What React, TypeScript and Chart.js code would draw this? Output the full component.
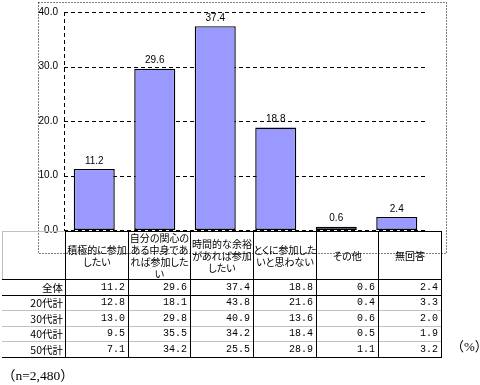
import React, { useEffect, useRef } from "react";
import { Chart, registerables } from "chart.js";

Chart.register(...registerables);

const categories: string[][] = [
  ["積極的に参加", "したい"],
  ["自分の関心の", "ある中身であ", "れば参加した", "い"],
  ["時間的な余裕", "があれば参加", "したい"],
  ["とくに参加した", "いと思わない"],
  ["その他"],
  ["無回答"],
];
const totalValues = [11.2, 29.6, 37.4, 18.8, 0.6, 2.4];
const rowLabels = ["全体", "20代計", "30代計", "40代計", "50代計"];
const rowValues: number[][] = [
  [11.2, 29.6, 37.4, 18.8, 0.6, 2.4],
  [12.8, 18.1, 43.8, 21.6, 0.4, 3.3],
  [13.0, 29.8, 40.9, 13.6, 0.6, 2.0],
  [9.5, 35.5, 34.2, 18.4, 0.5, 1.9],
  [7.1, 34.2, 25.5, 28.9, 1.1, 3.2],
];
const yTicks = { min: 0, max: 40, step: 10 };
const sampleNote = "（n=2,480）";
const unitNote = "（%）";

const colEdges = [65, 128, 190, 253, 316, 378, 441];
const rowEdges = [231, 279, 295, 310, 326, 341, 357];
const CJK = '"Noto Sans CJK JP", "Noto Sans", sans-serif';

const framePlugin = {
  id: "frame",
  beforeDatasetsDraw(chart: any) {
    const { ctx, chartArea, scales } = chart;
    ctx.save();
    ctx.strokeStyle = "#000";
    ctx.lineWidth = 1;
    ctx.setLineDash([1, 2]);
    ctx.strokeRect(38.5, 2.5, 408, 251);
    ctx.setLineDash([4, 3]);
    const y = scales.y;
    for (let v = yTicks.min; v <= yTicks.max; v += yTicks.step) {
      const py = Math.round(y.getPixelForValue(v)) + 0.5;
      ctx.beginPath();
      ctx.moveTo(chartArea.left, py);
      ctx.lineTo(chartArea.right, py);
      ctx.stroke();
    }
    ctx.beginPath();
    ctx.moveTo(chartArea.left + 0.5, chartArea.top);
    ctx.lineTo(chartArea.left + 0.5, chartArea.bottom);
    ctx.stroke();
    ctx.restore();
  },
  afterDatasetsDraw(chart: any) {
    const { ctx } = chart;
    const meta = chart.getDatasetMeta(0);
    ctx.save();
    ctx.fillStyle = "#000";
    ctx.font = '10px "Liberation Sans", Arial, sans-serif';
    ctx.textAlign = "center";
    ctx.textBaseline = "bottom";
    meta.data.forEach((el: any, i: number) => {
      ctx.fillText(totalValues[i].toFixed(1), el.x, el.y - 3);
    });
    ctx.restore();
  },
};

function ChartCanvas() {
  const ref = useRef<HTMLCanvasElement | null>(null);
  useEffect(() => {
    if (!ref.current) return;
    const chart = new Chart(ref.current, {
      type: "bar",
      data: {
        labels: categories.map((c) => c.join("")),
        datasets: [
          {
            data: totalValues,
            backgroundColor: "#9999FF",
            borderColor: "#000000",
            borderWidth: 1.4,
            borderSkipped: false,
            barPercentage: 0.678,
            categoryPercentage: 1,
          },
        ],
      },
      options: {
        responsive: false,
        animation: false,
        devicePixelRatio: 1,
        layout: { padding: { left: 0, right: 53, top: 8, bottom: 30 } },
        plugins: { legend: { display: false }, tooltip: { enabled: false } },
        scales: {
          x: { display: false },
          y: {
            min: yTicks.min,
            max: yTicks.max,
            afterFit: (s: any) => {
              s.width = 64;
            },
            grid: { display: false, drawTicks: false },
            border: { display: false },
            ticks: {
              stepSize: yTicks.step,
              padding: 6,
              color: "#000",
              font: { family: '"Liberation Sans", Arial, sans-serif', size: 10 },
              callback: (v: any) => Number(v).toFixed(1),
            },
          },
        },
      } as any,
      plugins: [framePlugin],
    });
    return () => chart.destroy();
  }, []);
  return (
    <canvas
      ref={ref}
      width={480}
      height={260}
      style={{ position: "absolute", left: 0, top: 0, width: 480, height: 260 }}
    />
  );
}

function Line(props: { x: number; y: number; w: number; h: number; c: string }) {
  return (
    <div
      style={{
        position: "absolute",
        left: props.x,
        top: props.y,
        width: props.w,
        height: props.h,
        background: props.c,
      }}
    />
  );
}

function Table() {
  const els: React.ReactNode[] = [];
  const gray = "#c0c0c0";
  els.push(<Line key="gt" x={2} y={rowEdges[0]} w={colEdges[0] - 2} h={1} c={gray} />);
  els.push(<Line key="gl" x={2} y={rowEdges[0]} w={1} h={rowEdges[1] - rowEdges[0]} c={gray} />);
  els.push(
    <Line key="bt" x={colEdges[0]} y={rowEdges[0]} w={colEdges[6] - colEdges[0] + 1} h={1} c="#000" />
  );
  rowEdges.slice(1).forEach((ry, i) => {
    const black = i === 0 || i === 1 || i === rowEdges.length - 2;
    els.push(
      <Line key={"h" + i} x={2} y={ry} w={colEdges[6] - 2 + 1} h={1} c={black ? "#000" : gray} />
    );
  });
  colEdges.forEach((cx, i) => {
    els.push(
      <Line key={"v" + i} x={cx} y={rowEdges[0]} w={1} h={rowEdges[6] - rowEdges[0] + 1} c="#000" />
    );
  });
  categories.forEach((lines, i) => {
    els.push(
      <div
        key={"hd" + i}
        style={{
          position: "absolute",
          left: colEdges[i] + 1,
          top: rowEdges[0] + 1,
          width: colEdges[i + 1] - colEdges[i] - 1,
          height: rowEdges[1] - rowEdges[0] - 1,
          display: "flex",
          flexDirection: "column",
          justifyContent: "center",
          alignItems: "center",
          fontFamily: CJK,
          fontSize: 10,
          lineHeight: "12px",
          fontFeatureSettings: '"palt"',
          color: "#000",
        }}
      >
        {lines.map((l, j) => (
          <div key={j} style={{ whiteSpace: "nowrap" }}>
            {l}
          </div>
        ))}
      </div>
    );
  });
  rowLabels.forEach((lab, r) => {
    const top = rowEdges[r + 1] + 1;
    const h = rowEdges[r + 2] - rowEdges[r + 1] - 1;
    els.push(
      <div
        key={"rl" + r}
        style={{
          position: "absolute",
          left: 2,
          top,
          width: colEdges[0] - 4,
          height: h,
          textAlign: "right",
          fontFamily: CJK,
          fontSize: 10.5,
          lineHeight: h + "px",
          color: "#000",
          whiteSpace: "nowrap",
        }}
      >
        {lab}
      </div>
    );
    rowValues[r].forEach((v, c) => {
      els.push(
        <div
          key={"c" + r + "_" + c}
          style={{
            position: "absolute",
            left: colEdges[c] + 1,
            top,
            width: colEdges[c + 1] - colEdges[c] - 4,
            height: h,
            textAlign: "right",
            fontFamily: '"Liberation Mono", "DejaVu Sans Mono", monospace',
            fontSize: 10,
            lineHeight: h + "px",
            color: "#000",
            whiteSpace: "nowrap",
          }}
        >
          {v.toFixed(1)}
        </div>
      );
    });
  });
  return <>{els}</>;
}

export default function App() {
  return (
    <div
      style={{
        position: "absolute",
        left: 0,
        top: 0,
        width: 480,
        height: 385,
        background: "#fff",
        overflow: "hidden",
      }}
    >
      <ChartCanvas />
      <Table />
      <div
        style={{
          position: "absolute",
          left: 451,
          top: 339,
          fontFamily: '"Liberation Serif", ' + CJK,
          fontSize: 13,
          lineHeight: "16px",
          whiteSpace: "nowrap",
          color: "#000",
        }}
      >
        {unitNote}
      </div>
      <div
        style={{
          position: "absolute",
          left: 2,
          top: 368,
          fontFamily: '"Liberation Serif", ' + CJK,
          fontSize: 13.5,
          lineHeight: "16px",
          whiteSpace: "nowrap",
          color: "#000",
        }}
      >
        {sampleNote}
      </div>
    </div>
  );
}
